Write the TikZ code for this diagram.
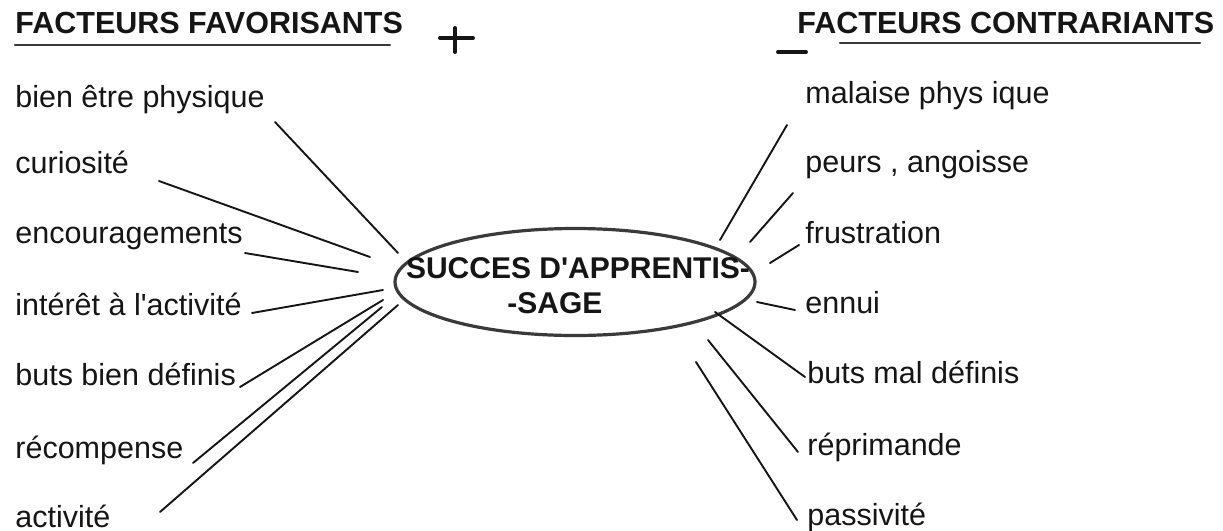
\documentclass[tikz,border=0pt]{standalone}
\usepackage{fontspec}
\setmainfont{Liberation Sans}
\usetikzlibrary{shapes.geometric}
\definecolor{ink}{HTML}{151515}
\definecolor{pen}{HTML}{3A3A3A}
\begin{document}
\begin{tikzpicture}[x=0.5pt,y=-0.5pt,
  lbl/.style={anchor=base west, inner sep=0pt, text=ink, font=\fontsize{15.25}{18}\selectfont},
  ttl/.style={anchor=base west, inner sep=0pt, text=ink, font=\fontsize{15.25}{18}\selectfont\bfseries},
  ctr/.style={anchor=base, inner sep=0pt, text=ink, font=\fontsize{15}{18}\selectfont\bfseries},
  conn/.style={line width=0.95pt, draw=ink, line cap=round},
  rule/.style={line width=1.1pt, draw=pen, line cap=round},
  blob/.style={ellipse, draw=pen, line width=1.6pt, minimum width=180pt, minimum height=53.5pt, inner sep=0pt}]
\useasboundingbox (0,0) rectangle (1223,531);

% titles
\node[ttl] (tl) at (15,33) {FACTEURS FAVORISANTS};
\node[ttl] (tr) at (797,33) {FACTEURS CONTRARIANTS};
\coordinate (ul1) at (15,45); \coordinate (ul2) at (390,45);
\draw[rule] (ul1) -- (ul2);
\coordinate (ur1) at (840,43); \coordinate (ur2) at (1200,43);
\draw[rule] (ur1) -- (ur2);
% plus and minus
\coordinate (p1) at (440,38); \coordinate (p2) at (473,38);
\coordinate (p3) at (455,28); \coordinate (p4) at (455,52);
\draw[rule, line width=2pt, draw=ink] (p1) -- (p2);
\draw[rule, line width=2pt, draw=ink] (p3) -- (p4);
\coordinate (m1) at (778,52); \coordinate (m2) at (806,52);
\draw[rule, line width=2pt, draw=ink] (m1) -- (m2);

% centre
\node[blob] (c) at (575,282) {};
\node[ctr] (c1) at (578,278) {SUCCES D\textquotesingle APPRENTIS-};
\node[ctr] (c2) at (555,313) {-SAGE};

% left labels
\node[lbl] (a1) at (15,107) {bien être physique};
\node[lbl] (a2) at (15,173) {curiosité};
\node[lbl] (a3) at (15,243) {encouragements};
\node[lbl] (a4) at (15,315) {intérêt à l\textquotesingle activité};
\node[lbl] (a5) at (15,385) {buts bien définis};
\node[lbl] (a6) at (15,458) {récompense};
\node[lbl] (a7) at (15,527) {activité};

% right labels
\node[lbl] (b1) at (805,103) {malaise phys ique};
\node[lbl] (b2) at (805,172) {peurs , angoisse};
\node[lbl] (b3) at (805,243) {frustration};
\node[lbl] (b4) at (805,313) {ennui};
\node[lbl] (b5) at (807,383) {buts mal définis};
\node[lbl] (b6) at (807,455) {réprimande};
\node[lbl] (b7) at (807,525) {passivité};

% left connectors
\coordinate (a1s) at (275,122); \coordinate (a1e) at (398,253);
\coordinate (a2s) at (159,181); \coordinate (a2e) at (370,257);
\coordinate (a3s) at (245,253); \coordinate (a3e) at (358,272);
\coordinate (a4s) at (252,313); \coordinate (a4e) at (383,290);
\coordinate (a5s) at (240,387); \coordinate (a5e) at (383,300);
\coordinate (a6s) at (193,463); \coordinate (a6e) at (382,307);
\coordinate (a7s) at (160,512); \coordinate (a7e) at (398,305);
\foreach \i in {1,...,7} {\draw[conn] (a\i s) -- (a\i e);}

% right connectors
\coordinate (b1s) at (787,125); \coordinate (b1e) at (720,240);
\coordinate (b2s) at (793,193); \coordinate (b2e) at (750,242);
\coordinate (b3s) at (799,245); \coordinate (b3e) at (770,263);
\coordinate (b4s) at (795,310); \coordinate (b4e) at (757,302);
\coordinate (b5s) at (805,377); \coordinate (b5e) at (715,312);
\coordinate (b6s) at (798,452); \coordinate (b6e) at (708,340);
\coordinate (b7s) at (797,520); \coordinate (b7e) at (696,362);
\foreach \i in {1,...,7} {\draw[conn] (b\i s) -- (b\i e);}
\end{tikzpicture}
\end{document}
